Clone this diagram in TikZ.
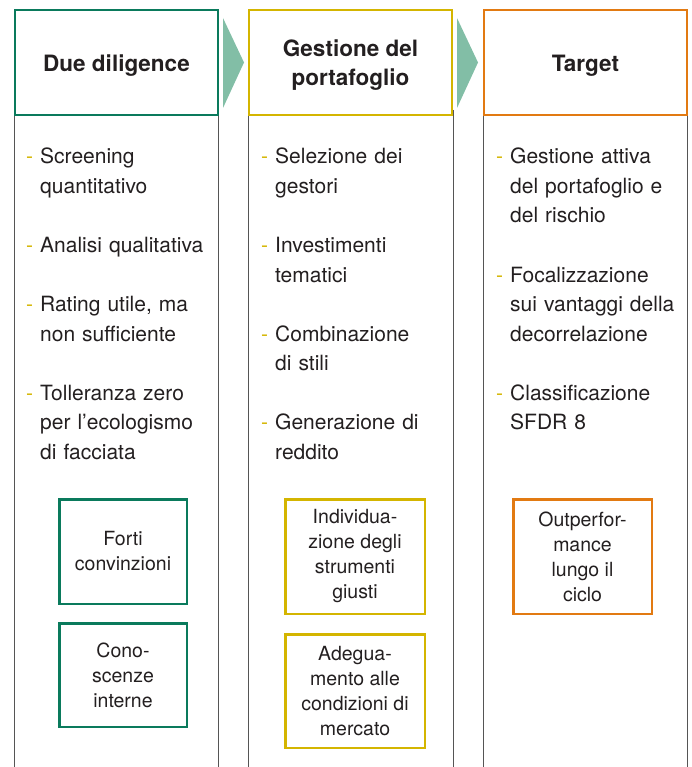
\documentclass[tikz,border=0pt]{standalone}
\usepackage{fontspec}
\setmainfont{TeX Gyre Heros}
\definecolor{grn}{HTML}{0A7A5C}
\definecolor{ylw}{HTML}{D4B500}
\definecolor{org}{HTML}{E27A12}
\definecolor{arrc}{HTML}{82BEA6}
\definecolor{txtc}{HTML}{231F20}
\definecolor{rulec}{HTML}{555555}
\newcommand{\dsh}{\llap{\textcolor{ylw}{-}\hspace{7pt}}}
\tikzset{
  headbox/.style={draw, line width=2.5pt, minimum width=203pt, minimum height=105pt, inner sep=0pt, fill=white},
  headtxt/.style={inner sep=0pt, align=center, text=txtc, font=\fontsize{22.5}{29}\selectfont\bfseries},
  itemtxt/.style={anchor=base west, inner sep=0pt, text width=185pt, align=left, text=txtc, font=\fontsize{21}{29.5}\selectfont},
  smallbox/.style={draw, line width=2.5pt, inner sep=0pt, align=center, text=txtc, font=\fontsize{19.5}{25}\selectfont},
  colrule/.style={draw=rulec, line width=1pt},
  chevron/.style={fill=arrc}
}
\begin{document}
\begin{tikzpicture}[x=1pt,y=-1pt]
\useasboundingbox (0,0) rectangle (691,767);
% column rules
\coordinate (b1l) at (14.5,767); \coordinate (b1r) at (218.5,767);
\coordinate (b2l) at (248.5,767); \coordinate (b2r) at (453,767);
\coordinate (b3l) at (483.5,767); \coordinate (b3r) at (687.5,767);
\draw[colrule] (14.5,110) -- (b1l);
\draw[colrule] (218.5,110) -- (b1r);
\draw[colrule] (248.5,110) -- (b2l);
\draw[colrule] (453,110) -- (b2r);
\draw[colrule] (483.5,110) -- (b3l);
\draw[colrule] (687.5,110) -- (b3r);
% headers
\node[headbox, draw=grn] (h1) at (116.5,62.5) {};
\node[headbox, draw=ylw] (h2) at (350.5,62.5) {};
\node[headbox, draw=org] (h3) at (585.5,62.5) {};
\node[headtxt] (h1t) at (116.5,65.5) {Due diligence};
\node[headtxt] (h2t) at (350.5,65.5) {Gestione del\\portafoglio};
\node[headtxt] (h3t) at (585.5,65.5) {Target};
% chevrons
\fill[chevron] (223,18) -- (244,62.5) -- (223,108) -- cycle;
\fill[chevron] (457,18) -- (478,62.5) -- (457,108) -- cycle;
% column 1 items
\node[itemtxt] (a1) at (40,164) {\dsh Screening\\quantitativo};
\node[itemtxt] (a2) at (40,252.5) {\dsh Analisi qualitativa};
\node[itemtxt] (a3) at (40,311.5) {\dsh Rating utile, ma\\non sufficiente};
\node[itemtxt] (a4) at (40,400) {\dsh Tolleranza zero\\per l’ecologismo\\di facciata};
% column 2 items
\node[itemtxt] (b1) at (275,164) {\dsh Selezione dei\\gestori};
\node[itemtxt] (b2) at (275,252.5) {\dsh Investimenti\\tematici};
\node[itemtxt] (b3) at (275,341) {\dsh Combinazione\\di stili};
\node[itemtxt] (b4) at (275,429.5) {\dsh Generazione di\\reddito};
% column 3 items
\node[itemtxt] (c1) at (510,164) {\dsh Gestione attiva\\del portafoglio e\\del rischio};
\node[itemtxt] (c2) at (510,282) {\dsh Focalizzazione\\sui vantaggi della\\decorrelazione};
\node[itemtxt] (c3) at (510,400) {\dsh Classificazione\\SFDR 8};
% small boxes
\node[smallbox, draw=grn, minimum width=127.5pt, minimum height=104.5pt] (s1) at (123,551.5) {Forti\\convinzioni};
\node[smallbox, draw=grn, minimum width=127.5pt, minimum height=103.5pt] (s2) at (123,675) {Cono-\\scenze\\interne};
\node[smallbox, draw=ylw, minimum width=139.5pt, minimum height=114.5pt] (s3) at (355,556.5) {Individua-\\zione degli\\strumenti\\giusti};
\node[smallbox, draw=ylw, minimum width=139.5pt, minimum height=113.5pt] (s4) at (355,691) {Adegua-\\mento alle\\condizioni di\\mercato};
\node[smallbox, draw=org, minimum width=138.5pt, minimum height=114.5pt] (s5) at (582.5,556.5) {Outperfor-\\mance\\lungo il\\ciclo};
\end{tikzpicture}
\end{document}
